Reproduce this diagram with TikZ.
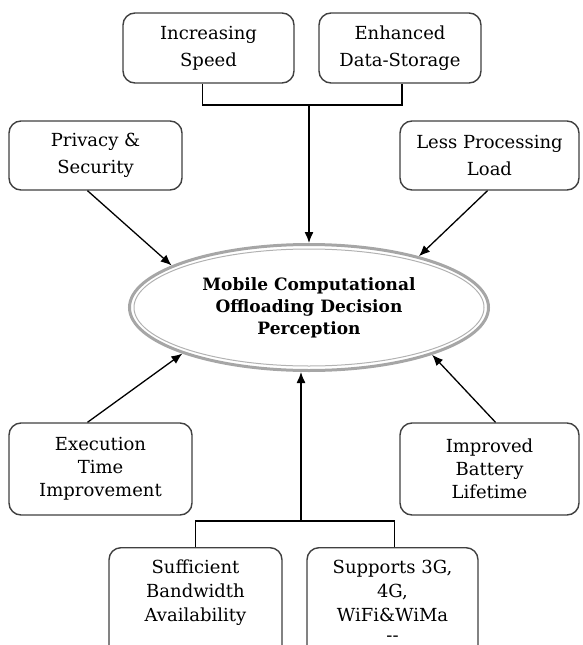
\documentclass[tikz,border=0pt]{standalone}
\usepackage{fontspec}
\setmainfont{DejaVu Serif}
\usetikzlibrary{shapes, arrows.meta, positioning}

\begin{document}
\begin{tikzpicture}
  [
    x=1pt, y=-1pt,
    Box/.style={rectangle, rounded corners=12pt, draw=black!75, line width=1.4pt, fill=white, align=center, inner sep=0pt, font=\fontsize{18}{23}\selectfont},
    Loose/.style={Box, font=\fontsize{18}{27}\selectfont},
    Low/.style={Box, anchor=north, inner ysep=12pt, text depth=40pt, font=\fontsize{18}{24}\selectfont},
    Oval/.style={ellipse, draw=gray!70, line width=3pt, inner sep=0pt, align=center, font=\bfseries\fontsize{17}{22}\selectfont},
    Link/.style={draw, line width=1.3pt},
    Arrow/.style={Link, -{Latex[length=11pt, width=9pt]}}
  ]
  \useasboundingbox (0,0) rectangle (582,645);
  \clip (0,0) rectangle (582,645);

  % Nodes (x, y)
  \node[Loose, minimum width=171pt, minimum height=70pt] (speed) at(208.5, 48) {Increasing\\Speed};
  \node[Loose, minimum width=162pt, minimum height=70pt] (storage) at(400, 48) {Enhanced\\Data-Storage};
  \node[Loose, minimum width=173pt, minimum height=69pt] (privacy) at(95.5, 155.5) {Privacy \&\\Security};
  \node[Loose, minimum width=179pt, minimum height=69pt] (load) at(489.5, 155.5) {Less Processing\\Load};
  \node[Oval, minimum width=359pt, minimum height=126pt] (mcod) at(309, 307.5) {Mobile Computational\\Offloading Decision\\Perception};
  \draw[gray!60, line width=1pt] (mcod.center) ellipse (175 and 58.5);
  \node[Box, minimum width=183pt, minimum height=92pt] (exec) at(100.5, 469) {Execution\\Time\\Improvement};
  \node[Box, minimum width=179pt, minimum height=92pt] (battery) at(489.5, 469) {Improved\\Battery\\Lifetime};
  \node[Low, minimum width=173pt] (bandwidth) at(195.5, 547) {Sufficient\\Bandwidth\\Availability};
  \node[Low, minimum width=171pt] (support) at(392.5, 547) {Supports 3G,\\4G,\\WiFi\&WiMa\\[-4pt]{-}{-}};

  % Joints
  \coordinate (topjoin) at(309, 105);
  \coordinate (botjoin) at(301, 521);

  % Lines
  % speed and storage -> perception
  \path [Link] ([xshift=-6pt]speed.south) |- (topjoin) -| ([xshift=2pt]storage.south);
  \path [Arrow] (topjoin) -- (mcod.north);
  % privacy, load -> perception
  \path [Arrow] ([xshift=-8pt]privacy.south) -- (mcod.163);
  \path [Arrow] ([xshift=-2pt]load.south) -- (mcod.25);
  % execution, battery -> perception
  \path [Arrow] ([xshift=-13pt]exec.north) -- (mcod.200);
  \path [Arrow] ([xshift=6pt]battery.north) -- (mcod.-21);
  % bandwidth and support -> perception
  \path [Link] (bandwidth.north) |- (botjoin) -| ([xshift=2pt]support.north);
  \path [Arrow] (botjoin) -- (mcod.south -| botjoin);

\end{tikzpicture}
\end{document}
